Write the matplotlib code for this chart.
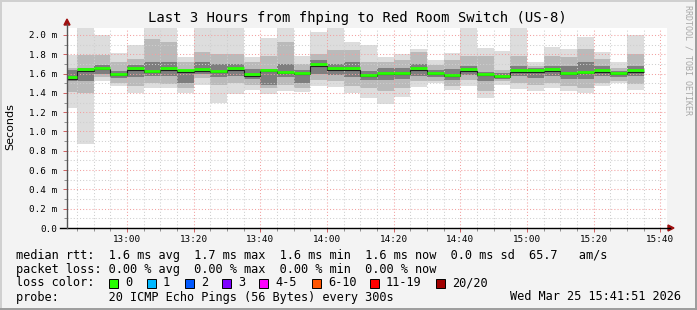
import matplotlib
matplotlib.use('Agg')
import matplotlib.pyplot as plt
from matplotlib.patches import Rectangle, Polygon
from matplotlib.lines import Line2D
from matplotlib.ticker import MultipleLocator, FuncFormatter
import numpy as np

W, H = 697, 310

# 5 minute rrd slots, minutes after 12:00 (first slot 12:40, last 15:30)
slot_start = list(range(40, 215, 5))

# median rtt per slot (ms)
median = [1.547, 1.630, 1.644, 1.586, 1.641, 1.619, 1.641, 1.620, 1.630, 1.617,
          1.641, 1.580, 1.624, 1.607, 1.597, 1.682, 1.641, 1.641, 1.577, 1.597,
          1.597, 1.641, 1.597, 1.575, 1.630, 1.586, 1.565, 1.620, 1.620, 1.630,
          1.597, 1.607, 1.620, 1.597, 1.620]
# smoke: min / max ping of the 20
ping_min = [1.24, 0.87, 1.52, 1.475, 1.395, 1.454, 1.447, 1.395, 1.48, 1.30,
            1.385, 1.43, 1.385, 1.423, 1.413, 1.472, 1.465, 1.395, 1.35, 1.28,
            1.361, 1.465, 1.499, 1.427, 1.472, 1.35, 1.482, 1.437, 1.423, 1.447,
            1.423, 1.403, 1.472, 1.499, 1.43]
ping_max = [1.79, 2.20, 2.00, 1.81, 1.897, 2.20, 2.20, 1.776, 2.20, 2.20,
            2.20, 1.769, 1.965, 2.20, 1.786, 2.035, 2.20, 1.93, 1.896, 1.776,
            1.803, 1.855, 1.741, 1.81, 2.20, 1.869, 1.834, 2.20, 1.717, 1.879,
            1.855, 1.983, 1.827, 1.717, 2.00]
# middle pings (roughly 5th..15th)
mid_lo = [1.41, 1.40, 1.56, 1.50, 1.47, 1.50, 1.49, 1.45, 1.55, 1.48,
          1.50, 1.48, 1.45, 1.48, 1.45, 1.53, 1.52, 1.47, 1.45, 1.42,
          1.45, 1.52, 1.52, 1.47, 1.53, 1.42, 1.52, 1.50, 1.48, 1.50,
          1.47, 1.45, 1.50, 1.52, 1.49]
mid_hi = [1.66, 1.79, 1.79, 1.72, 1.75, 1.96, 1.93, 1.72, 1.82, 1.80,
          1.80, 1.72, 1.78, 1.93, 1.70, 1.80, 1.84, 1.84, 1.72, 1.72,
          1.74, 1.82, 1.69, 1.74, 1.78, 1.78, 1.64, 1.78, 1.68, 1.78,
          1.77, 1.85, 1.75, 1.66, 1.80]
# inner pings (roughly 8th..12th)
in_lo = [1.52, 1.52, 1.60, 1.55, 1.56, 1.58, 1.57, 1.50, 1.60, 1.56,
         1.58, 1.54, 1.48, 1.56, 1.50, 1.60, 1.59, 1.56, 1.53, 1.53,
         1.54, 1.58, 1.56, 1.53, 1.59, 1.52, 1.54, 1.57, 1.55, 1.57,
         1.54, 1.54, 1.58, 1.56, 1.57]
in_hi = [1.64, 1.655, 1.69, 1.63, 1.69, 1.72, 1.72, 1.64, 1.72, 1.70,
         1.70, 1.65, 1.65, 1.70, 1.64, 1.74, 1.70, 1.72, 1.63, 1.66,
         1.66, 1.70, 1.64, 1.65, 1.68, 1.62, 1.61, 1.68, 1.66, 1.68,
         1.68, 1.72, 1.68, 1.63, 1.68]

x_ticks = [60, 80, 100, 120, 140, 160, 180, 200, 220]
x_labels = ['13:00', '13:20', '13:40', '14:00', '14:20', '14:40', '15:00', '15:20', '15:40']

legend_rows = [
    'median rtt:  1.6 ms avg  1.7 ms max  1.6 ms min  1.6 ms now  0.0 ms sd  65.7   am/s',
    'packet loss: 0.00 % avg  0.00 % max  0.00 % min  0.00 % now',
    'loss color:',
    'probe:       20 ICMP Echo Pings (56 Bytes) every 300s',
]
loss_labels = ['0', '1', '2', '3', '4-5', '6-10', '11-19', '20/20']
loss_colors = ['#26ff00', '#00b8ff', '#0059ff', '#7e00ff', '#ff00ff', '#ff5500', '#ff0000', '#a00000']
loss_x = [109, 147, 185, 222, 259, 312, 370, 436]

mono = 'DejaVu Sans Mono'


def fx(x):
    return x / W


def fy(y):
    return 1 - y / H


fig = plt.figure(figsize=(W / 100, H / 100), dpi=100, facecolor='#f3f3f3')

# frame
fig.add_artist(Line2D([fx(0), fx(W)], [fy(0.8), fy(0.8)], color='#d0d0d0', lw=1.4))
fig.add_artist(Line2D([fx(0.8), fx(0.8)], [fy(0), fy(H)], color='#d0d0d0', lw=1.4))
fig.add_artist(Line2D([fx(0), fx(W)], [fy(H - 0.8), fy(H - 0.8)], color='#9c9c9c', lw=1.4))
fig.add_artist(Line2D([fx(W - 0.8), fx(W - 0.8)], [fy(0), fy(H)], color='#9c9c9c', lw=1.4))

ax = fig.add_axes([fx(67), fy(228), 600 / W, 200 / H])
ax.set_facecolor('white')
ax.set_xlim(42, 222)
ax.set_ylim(0, 200 / 96.5)

x0 = np.array(slot_start)
med = np.array(median)
bands = [(ping_min, ping_max, '#dddddd'),
         (mid_lo, mid_hi, '#bababa'),
         (in_lo, in_hi, '#7e7e7e')]
for lo, hi, col in bands:
    lo = np.array(lo)
    hi = np.array(hi)
    ax.bar(x0, hi - lo, bottom=lo, width=5, align='edge', color=col, lw=0, zorder=1)

edges = np.append(x0, x0[-1] + 5)
ax.stairs(med, edges, baseline=None, color='#202020', lw=0.8, zorder=3)
ax.hlines(med + 0.013, x0, x0 + 5, color='#26ff00', lw=2.0, zorder=4)

# grid on top of smoke like rrdtool
ax.set_axisbelow(False)
ax.yaxis.set_major_locator(MultipleLocator(0.2))
ax.yaxis.set_minor_locator(MultipleLocator(0.1))
ax.set_xticks(x_ticks)
ax.set_xticklabels(x_labels)
ax.xaxis.set_minor_locator(MultipleLocator(5))
ax.grid(which='major', color='#f2a0a0', ls=(0, (1, 2)), lw=0.75, zorder=2.5)
ax.grid(which='minor', color='#cfcfcf', ls=(0, (1, 2)), lw=0.75, zorder=2.5)
ax.yaxis.set_major_formatter(FuncFormatter(lambda v, p: '0.0' if abs(v) < 1e-9 else '%.1f m' % v))

for s in ax.spines.values():
    s.set_visible(False)
ax.tick_params(which='major', axis='both', direction='out', length=3, width=0.7,
               color='#d06060', labelsize=6.7, pad=2)
ax.tick_params(which='minor', axis='both', direction='out', length=2, width=0.7, color='#909090')
ax.tick_params(axis='y', pad=4)
for lab in ax.get_xticklabels() + ax.get_yticklabels():
    lab.set_family(mono)

# axis lines with arrows
fig.add_artist(Line2D([fx(60), fx(670)], [fy(228), fy(228)], color='black', lw=1.0))
fig.add_artist(Line2D([fx(67), fx(67)], [fy(228), fy(24)], color='#555555', lw=1.0))
fig.add_artist(Polygon([[fx(668), fy(225)], [fx(674), fy(228)], [fx(668), fy(231)]],
                       closed=True, color='#a01010', transform=fig.transFigure))
fig.add_artist(Polygon([[fx(64), fy(25)], [fx(67), fy(19)], [fx(70), fy(25)]],
                       closed=True, color='#a01010', transform=fig.transFigure))

fig.text(fx(357), fy(18), 'Last 3 Hours from fhping to Red Room Switch (US-8)',
         family=mono, fontsize=10, ha='center', va='center')
fig.text(fx(10), fy(127), 'Seconds', fontsize=8, rotation=90, ha='center', va='center')
fig.text(fx(688), fy(5), 'RRDTOOL / TOBI OETIKER', family=mono, fontsize=6, color='#a8a8a8',
         rotation=-90, ha='center', va='top')

row_y = [256, 270, 283, 297]
for txt, y in zip(legend_rows, row_y):
    fig.text(fx(16), fy(y), txt, family=mono, fontsize=8.6, ha='left', va='center')

for lab, col, x in zip(loss_labels, loss_colors, loss_x):
    fig.add_artist(Rectangle((fx(x), fy(row_y[2] + 4.5)), 9 / W, 9 / H, facecolor=col,
                             edgecolor='black', lw=0.7, transform=fig.transFigure))
    fig.text(fx(x + 16), fy(row_y[2]), lab, family=mono, fontsize=8.6, ha='left', va='center')

fig.text(fx(681), fy(row_y[3]), 'Wed Mar 25 15:41:51 2026', family=mono, fontsize=8.6,
         ha='right', va='center')

fig.savefig('out.png', dpi=100, facecolor=fig.get_facecolor())
